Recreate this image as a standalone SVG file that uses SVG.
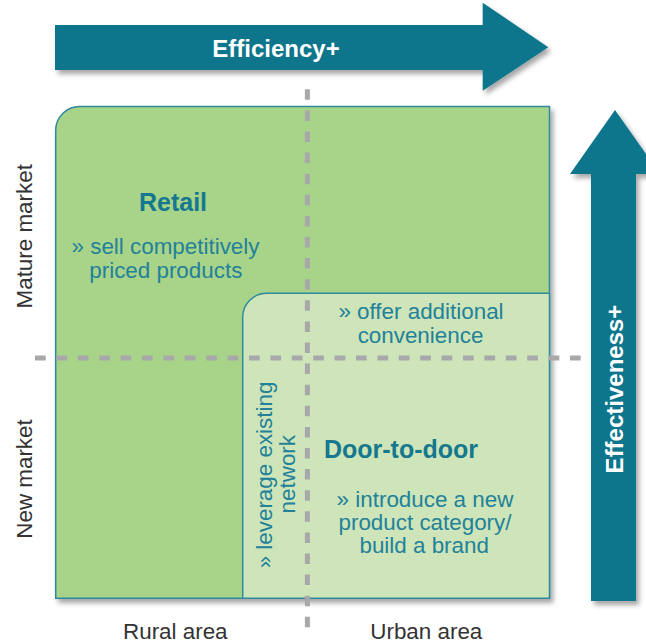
<svg xmlns="http://www.w3.org/2000/svg" width="646" height="643" viewBox="0 0 646 643">
  <defs>
    <filter id="shadow" x="-10%" y="-10%" width="130%" height="130%">
      <feDropShadow dx="3" dy="4" stdDeviation="2.5" flood-color="#000" flood-opacity="0.35"/>
    </filter>
  </defs>
  <style>
    .arrow { fill: #10758c; filter: url(#shadow); }
    .arrowtxt { font-family: "Liberation Sans", Arial, sans-serif; font-weight: bold; font-size: 24px; fill: #ffffff; text-anchor: middle; }
    .outer { fill: #a8d489; stroke: #2e8a9c; stroke-width: 1.5; filter: url(#shadow); }
    .inner { fill: #cde5b8; stroke: #2e8a9c; stroke-width: 1.5; }
    .dash { stroke: #a8a8aa; stroke-width: 5; fill: none; }
    .title { font-family: "Liberation Sans", Arial, sans-serif; font-weight: bold; font-size: 25px; fill: #15788f; text-anchor: middle; }
    .body { font-family: "Liberation Sans", Arial, sans-serif; font-size: 22.4px; fill: #23819a; text-anchor: middle; }
    .axis { font-family: "Liberation Sans", Arial, sans-serif; font-size: 22.4px; fill: #333333; text-anchor: middle; }
  </style>

  <g id="arrow-efficiency">
    <path class="arrow" d="M55,25 H482.7 V2.7 L548.3,47.3 L482.7,90.7 V70 H55 Z"/>
    <text class="arrowtxt" x="276" y="57.3">Efficiency+</text>
  </g>

  <g id="arrow-effectiveness">
    <path class="arrow" d="M591,601 V174 H570 L615,110 L660,174 H636 V601 Z"/>
    <text class="arrowtxt" transform="translate(623,389) rotate(-90)" x="0" y="0">Effectiveness+</text>
  </g>

  <g id="node-retail">
    <path class="outer" d="M55.7,130.5 A24,24 0 0 1 79.7,106.5 H549.5 V598.3 H55.7 Z"/>
  </g>

  <g id="node-door-to-door">
    <path class="inner" d="M242.7,317.3 A24,24 0 0 1 266.7,293.3 H549.5 V598.3 H242.7 Z"/>
  </g>

  <g id="axes">
    <line class="dash" x1="307.4" y1="89.3" x2="307.4" y2="636" stroke-dasharray="10.5 10.6"/>
    <line class="dash" x1="35" y1="358" x2="581" y2="358" stroke-dasharray="10.7 10.7"/>
  </g>

  <g id="labels-retail">
    <text class="title" x="173" y="211">Retail</text>
    <text class="body" x="165.5" y="254.3">» sell competitively</text>
    <text class="body" x="165.8" y="278.3">priced products</text>
  </g>

  <g id="labels-door-to-door">
    <text class="body" x="421" y="319">» offer additional</text>
    <text class="body" x="420.5" y="342.7">convenience</text>
    <text class="title" x="401" y="458.3">Door-to-door</text>
    <text class="body" x="425" y="506.7">» introduce a new</text>
    <text class="body" x="425" y="530">product category/</text>
    <text class="body" x="424.2" y="553.3">build a brand</text>
    <text class="body" transform="translate(272,475) rotate(-90)" x="0" y="0">» leverage existing</text>
    <text class="body" transform="translate(295,474.2) rotate(-90)" x="0" y="0">network</text>
  </g>

  <g id="axis-labels">
    <text class="axis" transform="translate(32.3,236.3) rotate(-90)" x="0" y="0">Mature market</text>
    <text class="axis" transform="translate(32.3,479) rotate(-90)" x="0" y="0">New market</text>
    <text class="axis" x="175.3" y="638.7">Rural area</text>
    <text class="axis" x="426.3" y="638.7">Urban area</text>
  </g>
</svg>
